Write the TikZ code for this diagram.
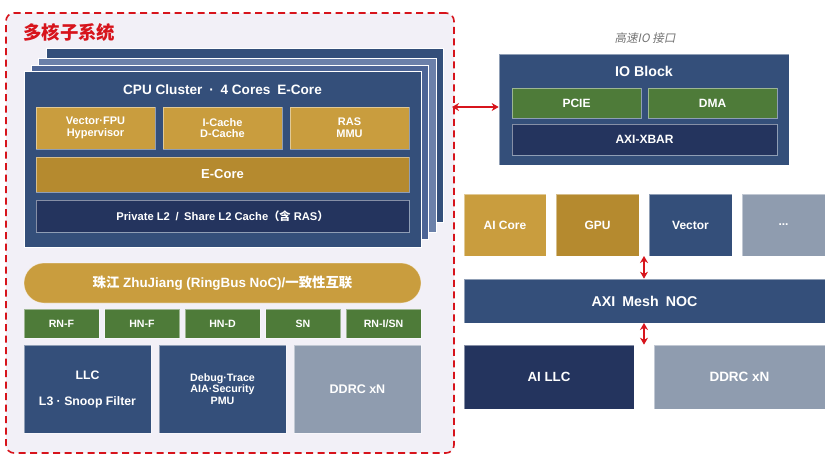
\documentclass[tikz,border=0pt]{standalone}
\usepackage{fontspec}
\setmainfont{Liberation Sans}
\newfontfamily\cjk{Noto Sans CJK SC}
\newfontfamily\cjkit{Noto Sans CJK SC}[FakeSlant=0.2]
\usetikzlibrary{arrows.meta}
\definecolor{navy}{HTML}{344F7A}
\definecolor{dnavy}{HTML}{24345E}
\definecolor{midblue}{HTML}{4D6596}
\definecolor{liteblue}{HTML}{6B80A9}
\definecolor{goldA}{HTML}{C99D3E}
\definecolor{goldB}{HTML}{B58A2F}
\definecolor{grn}{HTML}{4E7B39}
\definecolor{gry}{HTML}{8F9CAF}
\definecolor{redd}{HTML}{D7141C}
\definecolor{bgl}{HTML}{F2F0F7}
\tikzset{
  blk/.style={draw=white, draw opacity=0.45, line width=0.7pt, inner sep=0pt, align=center, text=white, font=\bfseries},
  arr/.style={draw=redd, line width=1.5pt, {Stealth[length=7pt,width=8pt]}-{Stealth[length=7pt,width=8pt]}}
}
\newcommand{\fs}[1]{\bfseries\fontsize{#1}{#1}\selectfont}
\begin{document}
\begin{tikzpicture}[x=1pt,y=-1pt]
\useasboundingbox (0,0) rectangle (830,464);
\fill[white] (0,0) rectangle (830,464);
% subsystem frame
\node[draw=redd, fill=bgl, dashed, dash pattern=on 7pt off 4.5pt, line width=1.6pt, rounded corners=8pt, minimum width=448pt, minimum height=440pt, inner sep=0pt] (sub) at (230,233) {};
\node[text=redd, font=\cjk\bfseries\fontsize{18.4}{18.4}\selectfont, anchor=west, inner sep=0pt] (subt) at (23,32) {多核子系统};
% cluster stack
\node[blk, draw opacity=1, fill=navy, minimum width=397pt, minimum height=174pt] (l1) at (244.5,135) {};
\node[blk, draw opacity=1, fill=liteblue, minimum width=398pt, minimum height=174pt] (l2) at (237,145) {};
\node[blk, draw opacity=1, fill=midblue, minimum width=397pt, minimum height=174pt] (l3) at (229.5,152) {};
\node[blk, draw opacity=1, fill=navy, minimum width=397pt, minimum height=176pt] (cl) at (222.5,159) {};
\node[text=white, font=\fs{13.6}, inner sep=0pt] (clt) at (222.5,90) {CPU Cluster\enspace·\enspace 4 Cores\enspace E-Core};
\node[blk, fill=goldA, minimum width=119pt, minimum height=42pt, font=\bfseries\fontsize{11}{11.7}\selectfont] (g1) at (95.5,128) {Vector·FPU\\Hypervisor};
\node[blk, fill=goldA, minimum width=119pt, minimum height=42pt, font=\bfseries\fontsize{11}{11.7}\selectfont] (g2) at (222.5,128) {I-Cache\\D-Cache};
\node[blk, fill=goldA, minimum width=119pt, minimum height=42pt, font=\bfseries\fontsize{11}{11.7}\selectfont] (g3) at (349.5,128) {RAS\\MMU};
\node[blk, fill=goldB, minimum width=373pt, minimum height=35pt, font=\fs{13}] (ec) at (222.5,174.5) {E-Core};
\node[blk, fill=dnavy, minimum width=373pt, minimum height=32pt, font=\fs{11.2}] (l2c) at (222.5,216) {Private L2\enspace/\enspace Share L2 Cache{\cjk\bfseries（含} RAS{\cjk\bfseries）}};
% ring bus
\node[blk, fill=goldA, minimum width=397pt, minimum height=40pt, rounded corners=20pt, font=\fs{13.4}] (ring) at (222.5,283) {{\cjk\bfseries 珠江} ZhuJiang (RingBus NoC)/{\cjk\bfseries 一致性互联}};
% green nodes
\node[blk, fill=grn, minimum width=75pt, minimum height=29pt, font=\fs{10.6}] (n1) at (61.5,323.5) {RN-F};
\node[blk, fill=grn, minimum width=75pt, minimum height=29pt, font=\fs{10.6}] (n2) at (142,323.5) {HN-F};
\node[blk, fill=grn, minimum width=75pt, minimum height=29pt, font=\fs{10.6}] (n3) at (222.5,323.5) {HN-D};
\node[blk, fill=grn, minimum width=75pt, minimum height=29pt, font=\fs{10.6}] (n4) at (303,323.5) {SN};
\node[blk, fill=grn, minimum width=75pt, minimum height=29pt, font=\fs{10.6}] (n5) at (383.5,323.5) {RN-I/SN};
% bottom blocks
\node[blk, fill=navy, minimum width=127pt, minimum height=88pt, font=\bfseries\fontsize{12.3}{26}\selectfont] (llc) at (87.5,389) {LLC\\L3 · Snoop Filter};
\node[blk, fill=navy, minimum width=127pt, minimum height=88pt, font=\bfseries\fontsize{10.7}{11.7}\selectfont] (dbg) at (222.5,389) {Debug·Trace\\AIA·Security\\PMU};
\node[blk, fill=gry, minimum width=127pt, minimum height=88pt, font=\fs{12.5}] (ddr1) at (357.5,389) {DDRC xN};
% IO block
\node[text=gray!90!black, font=\cjkit\fontsize{11.6}{11.6}\selectfont, inner sep=0pt] (iot) at (645,38) {高速IO 接口};
\node[blk, fill=navy, minimum width=290pt, minimum height=111pt] (io) at (644,109.5) {};
\node[text=white, font=\fs{14.2}, inner sep=0pt] (iotitle) at (644,71) {IO Block};
\node[blk, fill=grn, minimum width=129pt, minimum height=30pt, font=\fs{12}] (pcie) at (576.5,103) {PCIE};
\node[blk, fill=grn, minimum width=129pt, minimum height=30pt, font=\fs{12}] (dma) at (712.5,103) {DMA};
\node[blk, fill=dnavy, minimum width=265pt, minimum height=31pt, font=\fs{12}] (xbar) at (644.5,139.5) {AXI-XBAR};
\coordinate (al) at (452,107);
\draw[arr] (al) -- (al -| io.west);
% accelerators
\node[blk, fill=goldA, minimum width=82pt, minimum height=62pt, font=\fs{12}] (aic) at (505,225) {AI Core};
\node[blk, fill=goldB, minimum width=83pt, minimum height=62pt, font=\fs{12}] (gpu) at (597.5,225) {GPU};
\node[blk, fill=navy, minimum width=83pt, minimum height=62pt, font=\fs{12}] (vec) at (690.5,225) {Vector};
\node[blk, fill=gry, minimum width=83pt, minimum height=62pt, font=\fs{12}] (etc) at (783.5,225) {...};
\node[blk, fill=navy, minimum width=361pt, minimum height=44pt, font=\fs{14.2}] (noc) at (644.5,301) {AXI\enspace Mesh\enspace NOC};
\node[blk, fill=dnavy, minimum width=170pt, minimum height=64pt, font=\fs{13.3}] (aillc) at (549,377) {AI LLC};
\node[blk, fill=gry, minimum width=171pt, minimum height=64pt, font=\fs{13.5}] (ddr2) at (739.5,377) {DDRC xN};
\coordinate (v1) at (644,256);
\draw[arr] (v1) -- (v1 |- noc.north);
\coordinate (v2) at (644,323);
\draw[arr] (v2) -- (v2 |- aillc.north);
\end{tikzpicture}
\end{document}
